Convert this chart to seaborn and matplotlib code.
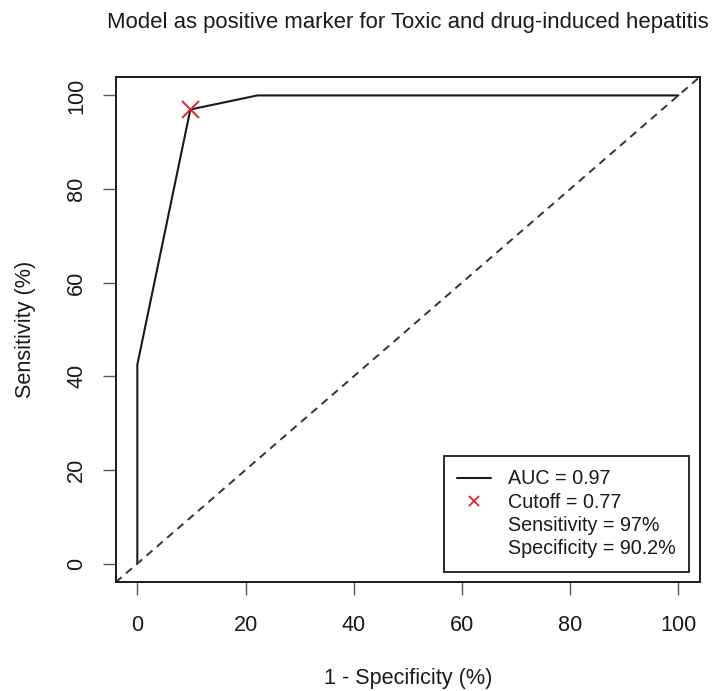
import matplotlib
matplotlib.use("Agg")
import matplotlib.pyplot as plt
from matplotlib.lines import Line2D
import seaborn as sns
import pandas as pd

# ROC curve points (percent)
fpr = [0, 0, 9.8, 22.2, 100]
tpr = [0, 42.5, 97, 100, 100]

auc = 0.97
cutoff = 0.77
sensitivity = 97
specificity = 90.2

title = "Model as positive marker for Toxic and drug-induced hepatitis"
ticks = [0, 20, 40, 60, 80, 100]

sns.set_theme(style="white")
plt.rcParams["font.family"] = ["Liberation Sans", "DejaVu Sans"]
FS = 15.6
FS_TITLE = 15.9
FS_LEG = 14.2
TXT = "#1a1a1a"

fig = plt.figure(figsize=(7.15, 6.91), dpi=100)
ax = fig.add_axes([115.7 / 715, (691 - 582.3) / 691, (700 - 115.7) / 715, (582.3 - 76.7) / 691])

roc = pd.DataFrame({"fpr": fpr, "tpr": tpr})
sns.lineplot(data=roc, x="fpr", y="tpr", sort=False, estimator=None,
             color="#1a1a1a", linewidth=1.5, ax=ax)

# chance diagonal
ax.axline((0, 0), slope=1, color="#333333", linewidth=1.4, linestyle=(0, (4, 3)))

# optimal cutoff point
cut = pd.DataFrame({"x": [100 - specificity], "y": [sensitivity]})
sns.scatterplot(data=cut, x="x", y="y", marker="x", s=150, color="#e0202e",
                linewidth=1.4, ax=ax, zorder=5)

ax.set_xlim(-4, 104)
ax.set_ylim(-4, 104)
ax.set_xticks(ticks)
ax.set_yticks(ticks)
ax.set_xticklabels([str(t) for t in ticks], fontsize=FS, color=TXT)
ax.set_yticklabels([str(t) for t in ticks], fontsize=FS, color=TXT,
                   rotation=90, va="center")
ax.tick_params(axis="both", direction="out", length=9.5, width=1.0,
               color="#555555")
ax.tick_params(axis="x", bottom=True, pad=14)
ax.tick_params(axis="y", left=True, pad=11)

for s in ax.spines.values():
    s.set_color("#1a1a1a")
    s.set_linewidth(1.4)

ax.set_xlabel("1 - Specificity (%)", fontsize=FS, color=TXT, labelpad=23)
ax.set_ylabel("Sensitivity (%)", fontsize=FS, color=TXT, labelpad=22)
ax.set_title(title, fontsize=FS_TITLE, color=TXT, pad=35)

handles = [
    Line2D([], [], color="#1a1a1a", linewidth=1.5),
    Line2D([], [], color="#e0202e", marker="x", linestyle="none",
           markersize=7, markeredgewidth=1.3),
    Line2D([], [], linestyle="none"),
    Line2D([], [], linestyle="none"),
]
labels = [
    f"AUC = {auc}",
    f"Cutoff = {cutoff}",
    f"Sensitivity = {sensitivity}%",
    f"Specificity = {specificity}%",
]
leg = ax.legend(handles, labels, loc="lower right",
                bbox_to_anchor=(0.9817, 0.0198), borderaxespad=0,
                fontsize=FS_LEG, frameon=True, fancybox=False, framealpha=1,
                edgecolor="#1a1a1a", borderpad=0.7, labelspacing=0.22,
                handlelength=1.7, handletextpad=0.85)
leg.get_frame().set_linewidth(1.3)
for t in leg.get_texts():
    t.set_color(TXT)

fig.savefig("out.png", dpi=100, facecolor="white")
